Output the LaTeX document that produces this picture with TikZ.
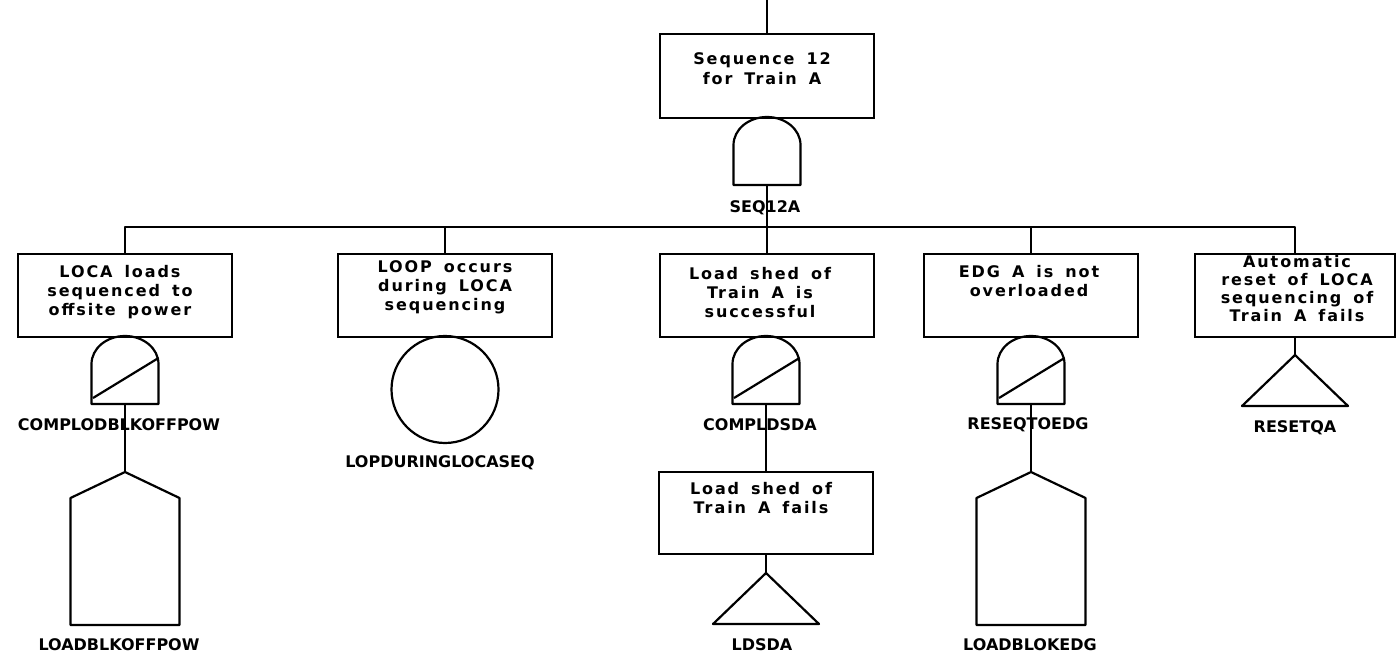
\documentclass[tikz,border=0pt]{standalone}
\usepackage{fontspec}
\setmainfont{DejaVu Sans}
\newfontfamily\evfont[LetterSpace=12,WordSpace=1.6]{DejaVu Sans}
\newfontfamily\tagfont{DejaVu Sans}
\usetikzlibrary{calc}

\tikzset{
  ln/.style={line width=2.2pt, line join=round},
  evbox/.style={draw, line width=2.2pt, minimum width=214pt, minimum height=83pt, inner sep=0pt, anchor=north},
  evtext/.style={font=\evfont\bfseries\fontsize{16}{19}\selectfont, align=center, anchor=north, inner sep=0pt},
  tag/.style={font=\tagfont\bfseries\fontsize{16}{18}\selectfont, inner sep=0pt},
  shapebox/.style={inner sep=0pt, outer sep=0pt, draw=none},
}

% AND gate: name, x, top y
\newcommand\andgate[3]{%
  \node[shapebox, minimum width=67pt, minimum height=68pt] (#1) at (#2,#3+34) {};
  \draw[ln] (#2-33.5,#3+68) -- (#2-33.5,#3+28)
    .. controls (#2-33.5,#3+12.5) and (#2-18.5,#3) .. (#2,#3)
    .. controls (#2+18.5,#3) and (#2+33.5,#3+12.5) .. (#2+33.5,#3+28)
    -- (#2+33.5,#3+68) -- cycle;}
% complemented AND gate (with slash)
\newcommand\inhgate[3]{%
  \andgate{#1}{#2}{#3}
  \draw[ln] (#2-32,#3+62) -- (#2+33.5,#3+22);}
% house event: name, x, apex y
\newcommand\housev[3]{%
  \node[shapebox, minimum width=109pt, minimum height=153pt] (#1) at (#2,#3+76.5) {};
  \draw[ln] (#2,#3) -- (#2+54.5,#3+26) -- (#2+54.5,#3+153) -- (#2-54.5,#3+153) -- (#2-54.5,#3+26) -- cycle;}
% transfer triangle: name, x, apex y
\newcommand\xfer[3]{%
  \node[shapebox, minimum width=106pt, minimum height=51pt] (#1) at (#2,#3+25.5) {};
  \draw[ln] (#2,#3) -- (#2+53,#3+51) -- (#2-53,#3+51) -- cycle;}

\begin{document}
\begin{tikzpicture}[x=1pt,y=-1pt]
\useasboundingbox (0,0) rectangle (1396,660);
\fill[white] (0,0) rectangle (1396,660);

% top event
\coordinate (in) at (767,0);
\node[evbox, minimum height=84pt] (b0) at (767,33) {};
\node[evtext, font=\evfont\bfseries\fontsize{16}{20}\selectfont] (b0t) at (762,52) {Sequence 12\\for Train A};
\andgate{g0}{767}{117}
\node[tag] (g0l) at (765,208) {SEQ12A};

% second level events
\node[evbox] (b1) at (125,253) {};
\node[evtext] (b1t) at (120,265) {LOCA loads\\sequenced to\\offsite power};
\node[evbox] (b2) at (445,253) {};
\node[evtext] (b2t) at (445,260) {LOOP occurs\\during LOCA\\sequencing};
\node[evbox] (b3) at (767,253) {};
\node[evtext] (b3t) at (760,267) {Load shed of\\Train A is\\successful};
\node[evbox] (b4) at (1031,253) {};
\node[evtext] (b4t) at (1029,265) {EDG A is not\\overloaded};
\node[evbox, minimum width=200pt] (b5) at (1295,253) {};
\node[evtext, font=\evfont\bfseries\fontsize{16}{18}\selectfont] (b5t) at (1297,255) {Automatic\\reset of LOCA\\sequencing of\\Train A fails};

% gates and basic events
\inhgate{g1}{125}{336}
\node[draw, circle, line width=2.2pt, minimum size=107pt, inner sep=0pt] (c2) at (445,389.5) {};
\inhgate{g3}{766}{336}
\inhgate{g4}{1031}{336}
\housev{h1}{125}{472}
\housev{h4}{1031}{472}
\node[evbox, minimum height=82pt] (s3) at (766,471) {};
\node[evtext] (s3t) at (761,482) {Load shed of\\Train A fails};
\xfer{t3}{766}{573}
\xfer{t5}{1295}{355}

% identifiers
\node[tag] (g1l) at (119,425) {COMPLODBLKOFFPOW};
\node[tag] (h1l) at (119,645) {LOADBLKOFFPOW};
\node[tag] (c2l) at (440,463) {LOPDURINGLOCASEQ};
\node[tag] (g3l) at (760,425) {COMPLDSDA};
\node[tag] (t3l) at (762,645) {LDSDA};
\node[tag] (g4l) at (1028,425) {RESEQTOEDG};
\node[tag] (h4l) at (1030,645) {LOADBLOKEDG};
\node[tag] (t5l) at (1295,428) {RESETQA};

% connectors
\coordinate (bus) at (767,227);
\draw[ln] (in) -- (b0.north);
\draw[ln] (g0.south) -- (b3.north);
\draw[ln] (b1.north) |- (bus) -| (b5.north);
\draw[ln] (b2.north) -- (b2.north |- bus);
\draw[ln] (b4.north) -- (b4.north |- bus);
\draw[ln] (g1.south) -- (h1.north);
\draw[ln] (g3.south) -- (s3.north);
\draw[ln] (s3.south) -- (t3.north);
\draw[ln] (g4.south) -- (h4.north);
\draw[ln] (b5.south) -- (t5.north);
\end{tikzpicture}
\end{document}
